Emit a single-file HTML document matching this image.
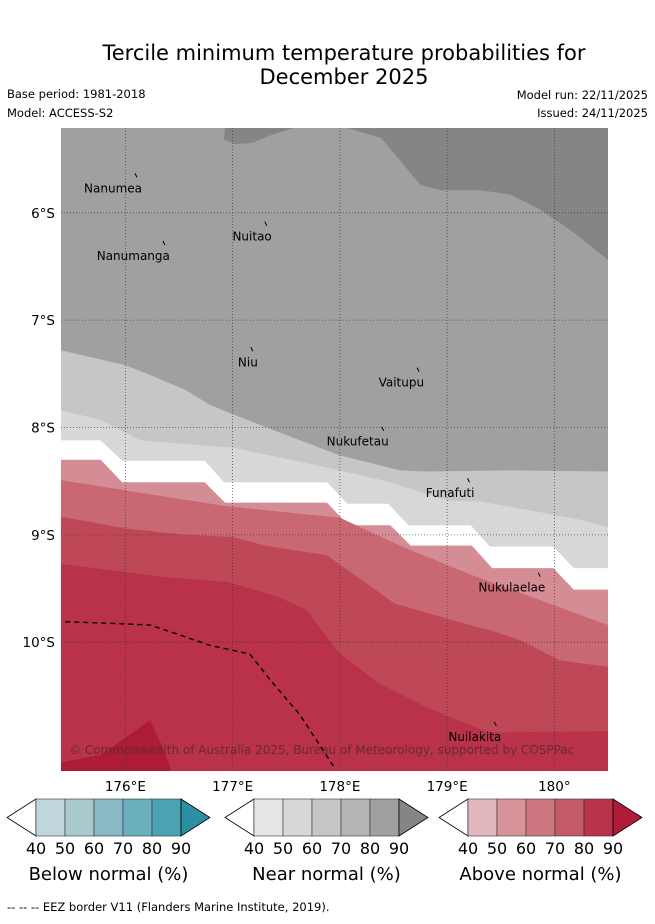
<!DOCTYPE html>
<html><head><meta charset="utf-8"><style>
body{margin:0;background:#fff;font-family:"Liberation Sans","DejaVu Sans",sans-serif;}
svg text{font-family:"DejaVu Sans","Liberation Sans",sans-serif;}
</style></head><body>
<svg id="chart" width="655" height="919" viewBox="0 0 655 919" xmlns="http://www.w3.org/2000/svg">
<text x="344" y="60" font-size="21" text-anchor="middle">Tercile minimum temperature probabilities for</text>
<text x="344" y="84" font-size="21" text-anchor="middle">December 2025</text>
<text x="7" y="98" font-size="11.5">Base period: 1981-2018</text>
<text x="7" y="117" font-size="11.5">Model: ACCESS-S2</text>
<text x="648" y="99" font-size="11.5" text-anchor="end">Model run: 22/11/2025</text>
<text x="648" y="117" font-size="11.5" text-anchor="end">Issued: 24/11/2025</text>
<defs><clipPath id="mapclip"><rect x="61" y="128" width="547" height="643"/></clipPath></defs>
<g id="map" clip-path="url(#mapclip)"></g>
<g id="axes"></g>
<g id="legend"></g>
<text x="7" y="911" font-size="11.5">--  --  -- EEZ border V11 (Flanders Marine Institute, 2019).</text>
</svg>
<script>
// Map extent (degrees)
const lonMin = 175.40, lonMax = 180.50, latTop = -5.21, latBot = -11.20;
const lonTicks = [176, 177, 178, 179, 180];
const lonTickLabels = ["176°E", "177°E", "178°E", "179°E", "180°"];
const latTicks = [-6, -7, -8, -9, -10];
const latTickLabels = ["6°S", "7°S", "8°S", "9°S", "10°S"];
// Contour boundaries as [lon, lat] pairs; region below each line gets the colour
const bandColors = ["#c6c6c6", "#d7d7d7", "#ffffff", "#d58d95", "#c96872", "#be4855", "#b9324a"];
const boundary1 = [[175.40,-7.28],[176.00,-7.42],[176.23,-7.51],[176.56,-7.65],[176.79,-7.79],[177.01,-7.88],[177.63,-8.12],[178.00,-8.26],[178.56,-8.40],[178.80,-8.41],[179.59,-8.40],[180.50,-8.41]];
const boundary2 = [[175.40,-7.84],[175.77,-7.93],[176.14,-8.12],[177.01,-8.19],[177.63,-8.32],[178.00,-8.40],[178.47,-8.51],[179.00,-8.68],[179.31,-8.69],[179.77,-8.77],[180.24,-8.86],[180.50,-8.93]];
const boundary3 = [[175.40,-8.12],[175.77,-8.12],[175.97,-8.31],[176.74,-8.31],[176.92,-8.51],[177.88,-8.51],[178.07,-8.71],[178.45,-8.71],[178.64,-8.91],[179.22,-8.91],[179.40,-9.11],[179.99,-9.11],[180.18,-9.31],[180.50,-9.31]];
const boundary4 = [[175.40,-8.30],[175.77,-8.30],[175.97,-8.51],[176.74,-8.51],[176.93,-8.70],[177.88,-8.70],[178.08,-8.91],[178.47,-8.91],[178.66,-9.10],[179.23,-9.10],[179.42,-9.31],[179.99,-9.31],[180.18,-9.51],[180.50,-9.51]];
const boundary5 = [[175.40,-8.49],[175.97,-8.58],[176.92,-8.73],[178.00,-8.84],[178.56,-9.10],[179.22,-9.37],[179.87,-9.61],[180.50,-9.84]];
const boundary6 = [[175.40,-8.83],[176.00,-8.94],[176.56,-9.00],[177.01,-9.02],[177.30,-9.10],[177.88,-9.19],[178.51,-9.64],[179.03,-9.79],[179.40,-9.89],[179.68,-9.98],[180.05,-10.17],[180.50,-10.23]];
const boundary7 = [[175.40,-9.27],[176.34,-9.39],[176.96,-9.44],[177.43,-9.58],[177.69,-9.70],[177.99,-10.10],[178.36,-10.38],[178.82,-10.61],[179.38,-10.84],[180.50,-10.83]];
const darkTopBlob = [[176.93,-5.21],[176.92,-5.32],[177.03,-5.36],[177.18,-5.35],[177.35,-5.28],[177.57,-5.21]];
const darkTopRight = [[178.07,-5.21],[178.38,-5.30],[178.56,-5.51],[178.75,-5.74],[178.94,-5.79],[179.31,-5.79],[179.59,-5.83],[179.87,-5.97],[180.19,-6.19],[180.50,-6.44],[180.50,-5.21]];
const darkRedBlob = [[175.40,-11.12],[175.77,-11.05],[176.23,-10.73],[176.34,-10.96],[176.43,-11.20],[175.40,-11.20]];
const eezLine = [[175.44,-9.81],[175.77,-9.82],[176.23,-9.84],[176.47,-9.92],[176.79,-10.03],[177.16,-10.11],[177.35,-10.35],[177.63,-10.68],[177.95,-11.17]];
const islandNames = ["Nanumea","Nanumanga","Nuitao","Niu","Vaitupu","Nukufetau","Funafuti","Nukulaelae","Nuilakita"];
const islandLon = [176.09,176.35,177.30,177.17,178.72,178.39,179.19,179.85,179.44];
const islandLat = [-5.67,-6.30,-6.12,-7.29,-7.48,-8.03,-8.51,-9.39,-10.78];

const mx0=61,mx1=608,my0=128,my1=771;
const X = lon => mx0 + (lon-lonMin)/(lonMax-lonMin)*(mx1-mx0);
const Y = lat => my0 + (latTop-lat)/(latTop-latBot)*(my1-my0);
const NS="http://www.w3.org/2000/svg";
function mk(tag, attrs, parent){const e=document.createElementNS(NS,tag);for(const k in attrs)e.setAttribute(k,attrs[k]);parent.appendChild(e);return e;}
const map=document.getElementById('map');
const base=mk('rect',{x:mx0,y:my0,width:mx1-mx0,height:my1-my0,fill:'#a0a0a0'},map);


function poly(pts){return pts.map(p=>X(p[0]).toFixed(1)+','+Y(p[1]).toFixed(1)).join(' ');}
const darkA=mk('polygon',{points:poly(darkTopBlob),fill:'#858585'},map);


const darkB=mk('polygon',{points:poly(darkTopRight),fill:'#858585'},map);


const bounds=[boundary1,boundary2,boundary3,boundary4,boundary5,boundary6,boundary7];
bounds.forEach((b,i)=>{
  const pts=b.concat([[lonMax+0.1,latBot-0.1],[lonMin-0.1,latBot-0.1]]);
  const p=mk('polygon',{points:poly(pts),fill:bandColors[i]},map);
  
  
});
const drb=mk('polygon',{points:poly(darkRedBlob),fill:'#ad1b37'},map);


// grid
lonTicks.forEach((t,i)=>{
  const g=mk('line',{x1:X(t),x2:X(t),y1:my0,y2:my1,stroke:'#333','stroke-width':0.8,'stroke-dasharray':'1,2',opacity:0.8},map);
  
  
});
latTicks.forEach((t,i)=>{
  const g=mk('line',{x1:mx0,x2:mx1,y1:Y(t),y2:Y(t),stroke:'#333','stroke-width':0.8,'stroke-dasharray':'1,2',opacity:0.8},map);
  
  
});
const eez=mk('polyline',{points:poly(eezLine),fill:'none',stroke:'#000','stroke-width':1.4,'stroke-dasharray':'5,4'},map);


islandNames.forEach((n,i)=>{
  const x=X(islandLon[i]), y=Y(islandLat[i]);
  const m=mk('line',{x1:x,y1:y-4,x2:x+2,y2:y,stroke:'#000','stroke-width':1},map);
  
  
  const t=mk('text',{x:x+7,y:y+15,'font-size':12,'text-anchor':'end',fill:'#000'},map);
  t.textContent=n;
  
  
});
const cp=mk('text',{x:69,y:754,'font-size':12,fill:'#5e2a31','fill-opacity':0.9},map);
cp.textContent='© Commonwealth of Australia 2025, Bureau of Meteorology, supported by COSPPac';


// tick labels
const axes=document.getElementById('axes');
lonTicks.forEach((t,i)=>{
  const e=mk('text',{x:X(t),y:791,'font-size':13.5,'text-anchor':'middle'},axes);
  e.textContent=lonTickLabels[i];
  
  
});
latTicks.forEach((t,i)=>{
  const e=mk('text',{x:55,y:Y(t)+5,'font-size':13.5,'text-anchor':'end'},axes);
  e.textContent=latTickLabels[i];
  
  
});
// legends
const legend=document.getElementById('legend');
const legendTitles=["Below normal (%)","Near normal (%)","Above normal (%)"];
const legendColors=[["#c0d5dc","#a9c9cc","#8ab8c4","#6aafbe","#4aa2b3","#2c8fa3"],["#e5e5e5","#d7d7d7","#c6c6c6","#b5b5b5","#a0a0a0","#858585"],["#e2b8be","#d79399","#cd7880","#c35a66","#b9334a","#ae1c3a"]];
const legendTicks=["40","50","60","70","80","90"];
const legendStarts=[36,254,468];
legendStarts.forEach((x0,k)=>{
  const y0=799,h=37,w=29,cy=y0+h/2;
  const lt=mk('polygon',{points:`${x0},${y0} ${x0-w},${cy} ${x0},${y0+h}`,fill:'#fff',stroke:'#000','stroke-width':0.8},legend);
  
  
  for(let i=0;i<5;i++){
    const r=mk('rect',{x:x0+i*w,y:y0,width:w,height:h,fill:legendColors[k][i],stroke:'#333','stroke-width':0.6},legend);
    
    
  }
  const rt=mk('polygon',{points:`${x0+5*w},${y0} ${x0+6*w},${cy} ${x0+5*w},${y0+h}`,fill:legendColors[k][5],stroke:'#000','stroke-width':0.8},legend);
  
  
  legendTicks.forEach((t,i)=>{
    const e=mk('text',{x:x0+i*w,y:854,'font-size':16,'text-anchor':'middle'},legend);
    e.textContent=t;
    
    
  });
  const tt=mk('text',{x:x0+2.5*w,y:880,'font-size':18,'text-anchor':'middle'},legend);
  tt.textContent=legendTitles[k];
  
  
});
</script>
</body></html>
